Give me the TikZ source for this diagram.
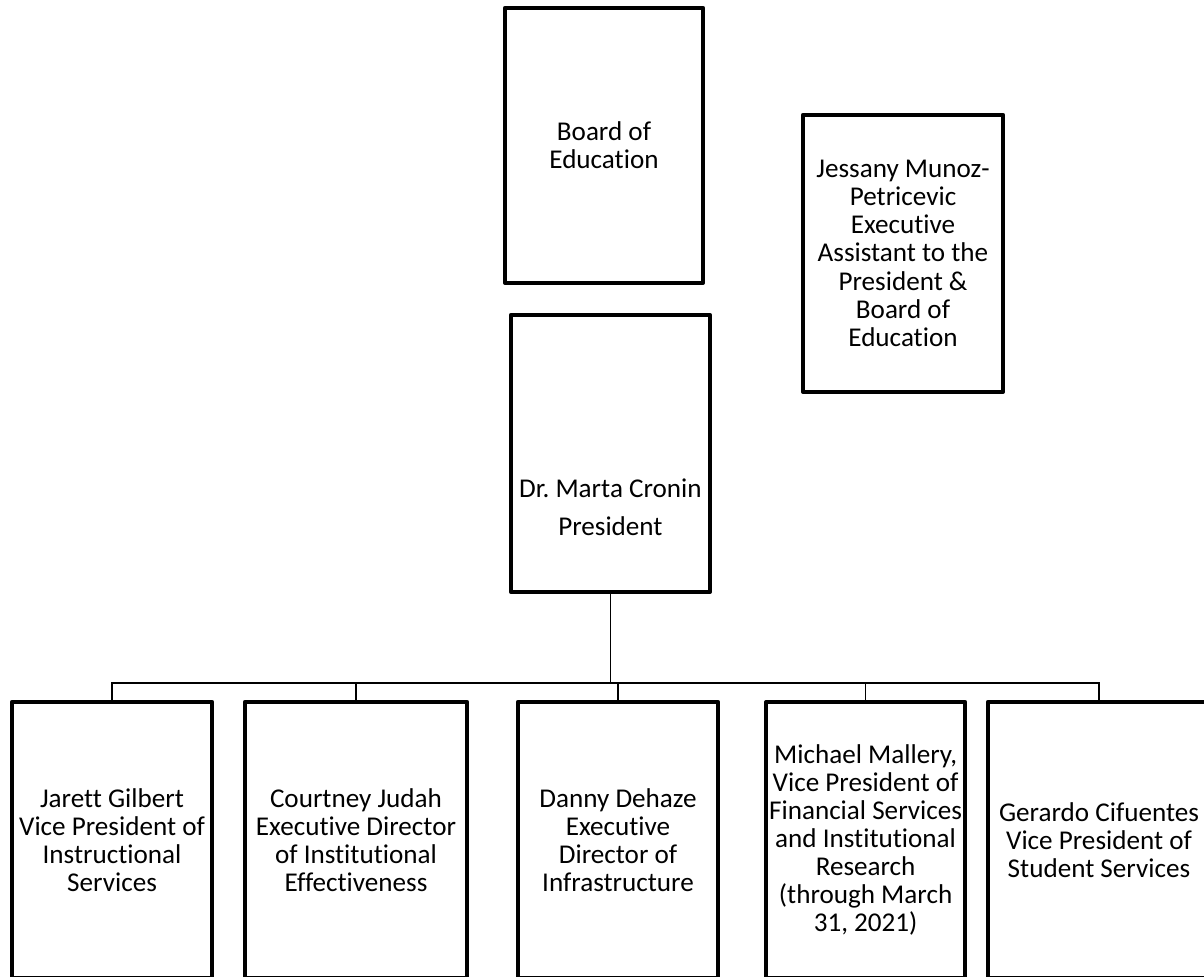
\documentclass[tikz,border=0pt]{standalone}
\usepackage{fontspec}
\setmainfont{Carlito}[Ligatures=NoCommon]
\frenchspacing
\tikzset{
	unit/.style={draw, line width=3pt, line join=round, minimum width=5cm, minimum height=6.9cm,
		align=center, inner sep=1pt, font=\fontsize{19.3}{20}\selectfont},
	link/.style={line width=1.2pt}
}
\begin{document}
\begin{tikzpicture}[line cap=round]
		\useasboundingbox (0,0) rectangle (30.1,24.425);
		% top of the chart
		\node[unit, minimum width=4.95cm, minimum height=6.875cm] (board) at (15.1,20.79) {Board of\\Education};
		\node[unit, minimum width=4.975cm, minimum height=6.925cm] (pres) at (15.26,13.09) {};
		\node[align=center, font=\fontsize{19.3}{20}\selectfont] (prestxt) at (15.26,11.75) {Dr. Marta Cronin\\[7pt]President};
		\node[unit, minimum height=6.925cm] (assist) at (22.575,18.09) {Jessany Munoz-\\Petricevic\\Executive\\Assistant to the\\President \&\\Board of\\Education};
		% second row
		\node[unit] (jarett) at (2.8,3.425) {Jarett Gilbert\\Vice President of\\Instructional\\Services};
		\node[unit, minimum width=5.55cm] (courtney) at (8.9,3.425) {Courtney Judah\\Executive Director\\of Institutional\\Effectiveness};
		\node[unit] (danny) at (15.45,3.425) {Danny Dehaze\\Executive\\Director of\\Infrastructure};
		\node[unit, minimum width=4.975cm] (michael) at (21.64,3.425) {Michael Mallery,\\Vice President of\\Financial Services\\and Institutional\\Research\\(through March\\31, 2021)};
		\node[unit, minimum width=5.55cm] (gerardo) at (27.475,3.425) {Gerardo Cifuentes\\Vice President of\\Student Services};
		\coordinate (bus) at (0,7.35);
		\draw[link] (pres.south) -- (pres.south |- bus);
		\draw[link] (jarett.north) |- (gerardo.north |- bus) -- (gerardo.north);
		\foreach \n in {courtney,danny,michael}
			\draw[link] (\n.north) -- (\n.north |- bus);
\end{tikzpicture}
\end{document}
